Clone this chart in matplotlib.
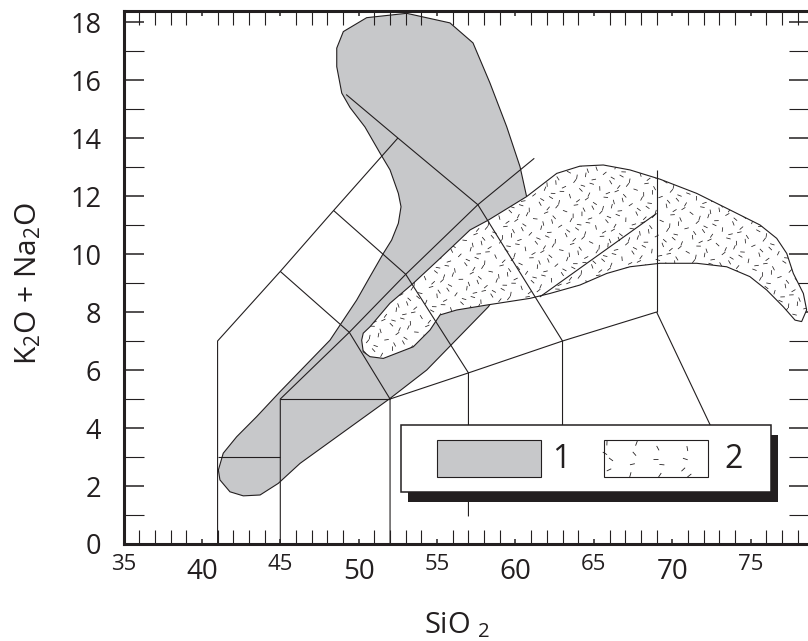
import numpy as np
import matplotlib
matplotlib.use("Agg")
import matplotlib.pyplot as plt
from matplotlib.patches import Polygon, Rectangle
from matplotlib.collections import LineCollection
from matplotlib.ticker import FixedLocator, MultipleLocator

# --- fonts ---
plt.rcParams['font.family'] = ['Open Sans', 'DejaVu Sans']
plt.rcParams['mathtext.fontset'] = 'custom'
plt.rcParams['mathtext.rm'] = 'Open Sans'
plt.rcParams['mathtext.it'] = 'Open Sans:italic'

INK = "#231f20"
GRAY = "#c7c8ca"

# --- TAS classification boundaries (SiO2, K2O+Na2O) ---
tas_lines = [
    ([41, 41, 45, 48.4, 52.5], [0, 7, 9.4, 11.5, 14]),
    ([41, 45], [3, 3]),
    ([45, 45, 49.4, 53, 57.6, 61.2], [0, 5, 7.3, 9.3, 11.7, 13.3]),
    ([45, 52], [5, 5]),
    ([45, 49.4, 52, 52], [9.4, 7.3, 5, 0]),
    ([48.4, 53, 57, 57], [11.5, 9.3, 5.9, 0.95]),
    ([49.2, 52.5, 57.6, 63, 63], [15.5, 14, 11.7, 7, 1.5]),
    ([52, 57, 63, 69, 74], [5, 5.9, 7, 8, 2.3]),
    ([69, 69], [8, 12.9]),
    ([61.55, 69], [8.52, 11.4]),
]

# --- field 1 (gray) outline ---
field1_x = [41.05, 41.15, 41.79, 42.64, 43.71, 44.87, 46.26, 52.0, 54.34, 58.27,
            59.0, 59.97, 60.6, 60.71, 60.29, 59.44, 58.37, 57.29, 55.82, 53.06,
            50.51, 49.02, 48.6, 48.6, 48.92, 49.45, 50.4, 51.36, 52.0, 52.53,
            52.7, 52.53, 52.1, 51.57, 50.72, 49.87, 49.02, 48.17, 44.98, 43.49,
            42.22, 41.36]
field1_y = [2.55, 2.21, 1.80, 1.66, 1.69, 2.09, 2.78, 5.02, 6.0, 8.18,
            8.76, 9.79, 10.83, 11.98, 13.01, 14.39, 15.9, 17.28, 17.97, 18.3,
            18.15, 17.67, 17.1, 16.46, 15.55, 15.05, 14.38, 13.48, 12.9, 12.09,
            11.63, 11.06, 10.48, 10.02, 9.22, 8.41, 7.72, 7.03, 5.25, 4.39,
            3.70, 3.13]

# --- field 2 (dotted) outline ---
field2_x = [50.29, 50.19, 50.29, 50.72, 51.57, 53.48, 54.55, 55.19, 56.25, 58.16,
            60.92, 62.2, 64.11, 65.82, 67.3, 69.22, 71.56, 73.47, 74.95, 76.02,
            77.08, 77.83, 78.25, 78.57, 78.36, 77.72, 77.3, 76.66, 75.6, 73.68,
            71.56, 69.22, 67.3, 65.6, 64.11, 62.63, 60.71, 58.27, 57.1, 55.19,
            53.48, 51.99, 50.72]
field2_y = [7.27, 7.03, 6.63, 6.46, 6.40, 6.80, 7.38, 7.90, 8.07, 8.24,
            8.47, 8.64, 8.93, 9.33, 9.56, 9.68, 9.68, 9.56, 9.22, 8.76,
            8.18, 7.72, 7.67, 8.07, 8.64, 9.33, 10.02, 10.54, 11.0, 11.52,
            12.09, 12.58, 12.9, 13.07, 13.03, 12.78, 11.98, 11.17, 10.83, 9.85,
            8.99, 8.30, 7.49]

legend_labels = ["1", "2"]

XLIM = (35, 78.7)
YLIM = (0, 18.38)
PX_X = 15.68   # pixels per SiO2 unit
PX_Y = 29.0    # pixels per alkali unit


def dash_texture(x0, x1, y0, y1, n, length_px=4.5):
    """short dashes spread with a low-discrepancy sequence (fill texture)"""
    g = 1.32471795724474602596
    k = np.arange(n)
    u = (0.5 + k / g) % 1
    v = (0.5 + k / g ** 2) % 1
    ang = ((k * 0.41421356) % 1) * np.pi
    cx = x0 + u * (x1 - x0)
    cy = y0 + v * (y1 - y0)
    hx = 0.5 * length_px * np.cos(ang) / PX_X
    hy = 0.5 * length_px * np.sin(ang) / PX_Y
    a = np.column_stack([cx - hx, cy - hy])
    b = np.column_stack([cx + hx, cy + hy])
    return np.stack([a, b], axis=1)


fig = plt.figure(figsize=(8.08, 6.41), dpi=100)
ax = fig.add_axes([0.15285, 0.15133, 0.848, 0.8315])
ax.set_xlim(*XLIM)
ax.set_ylim(*YLIM)

# field 1
f1 = Polygon(np.column_stack([field1_x, field1_y]), closed=True,
             facecolor=GRAY, edgecolor=INK, lw=0.8, zorder=1)
ax.add_patch(f1)

# field 2 with dash texture
f2 = Polygon(np.column_stack([field2_x, field2_y]), closed=True,
             facecolor="white", edgecolor=INK, lw=0.8, zorder=2)
ax.add_patch(f2)
segs = dash_texture(min(field2_x), max(field2_x), min(field2_y), max(field2_y), 1100)
tex = LineCollection(segs, colors=INK, linewidths=0.55, zorder=2.5)
tex.set_clip_path(f2)
ax.add_collection(tex)

# boundary lines
for xs, ys in tas_lines:
    ax.plot(xs, ys, color=INK, lw=0.8, zorder=3, solid_capstyle="butt")

# legend box with drop shadow
bx0, bx1, by0, by1 = 52.70, 76.29, 1.78, 4.10
sdx, sdy = 7 / PX_X, 10 / PX_Y
ax.add_patch(Rectangle((bx0 + sdx, by0 - sdy), bx1 - bx0, by1 - by0,
                       facecolor=INK, edgecolor="none", zorder=5))
ax.add_patch(Rectangle((bx0, by0), bx1 - bx0, by1 - by0,
                       facecolor="white", edgecolor=INK, lw=1.1, zorder=6))
ax.add_patch(Rectangle((54.97, 2.30), 6.64, 1.29, facecolor=GRAY,
                       edgecolor=INK, lw=0.8, zorder=7))
sw2 = Rectangle((65.64, 2.30), 6.62, 1.29, facecolor="white",
                edgecolor=INK, lw=0.8, zorder=7)
ax.add_patch(sw2)
lt = LineCollection(dash_texture(65.64, 72.26, 2.30, 3.59, 16, 5), colors=INK,
                    linewidths=0.6, zorder=7.5)
lt.set_clip_path(sw2)
ax.add_collection(lt)
ax.text(62.95, 2.90, legend_labels[0], fontsize=23, ha="center", va="center",
        color=INK, zorder=8)
ax.text(73.89, 2.90, legend_labels[1], fontsize=23, ha="center", va="center",
        color=INK, zorder=8)

# --- axes styling ---
for s in ["left", "bottom", "top"]:
    ax.spines[s].set_linewidth(2.2)
    ax.spines[s].set_color(INK)
ax.spines["right"].set_visible(False)

xmaj = [35, 40, 45, 50, 55, 60, 65, 70, 75]
ax.xaxis.set_major_locator(FixedLocator(xmaj))
ax.xaxis.set_minor_locator(MultipleLocator(1))
ax.set_xticklabels([str(v) for v in xmaj])
ax.tick_params(axis="x", which="both", direction="in", top=True, bottom=True,
               colors=INK)
ax.tick_params(axis="x", which="minor", length=10, width=0.8)
ax.tick_params(axis="x", which="major", width=1.1)
for t, v in zip(ax.xaxis.get_major_ticks(len(xmaj)), xmaj):
    big = v % 10 == 0
    L = 24.5 if big else 19
    t.tick1line.set_markersize(L)
    t.tick2line.set_markersize(L)
    t.label1.set_fontsize(20 if big else 16)
    t.set_pad(10 if big else 7.5)

ax.yaxis.set_major_locator(MultipleLocator(2))
ax.yaxis.set_minor_locator(MultipleLocator(1))
ax.tick_params(axis="y", which="both", direction="in", left=True, right=True,
               length=14.5, colors=INK)
ax.tick_params(axis="y", which="major", width=1.1, labelsize=19.5, pad=16)
ax.tick_params(axis="y", which="minor", width=0.8)

ax.set_xlabel("SiO $_2$", fontsize=21, color=INK)
ax.xaxis.set_label_coords(0.487, -0.125)
ax.set_ylabel("K$_2$O + Na$_2$O", fontsize=21.5, color=INK)
ax.yaxis.set_label_coords(-0.117, 0.488)

fig.savefig("out.png", dpi=100)
